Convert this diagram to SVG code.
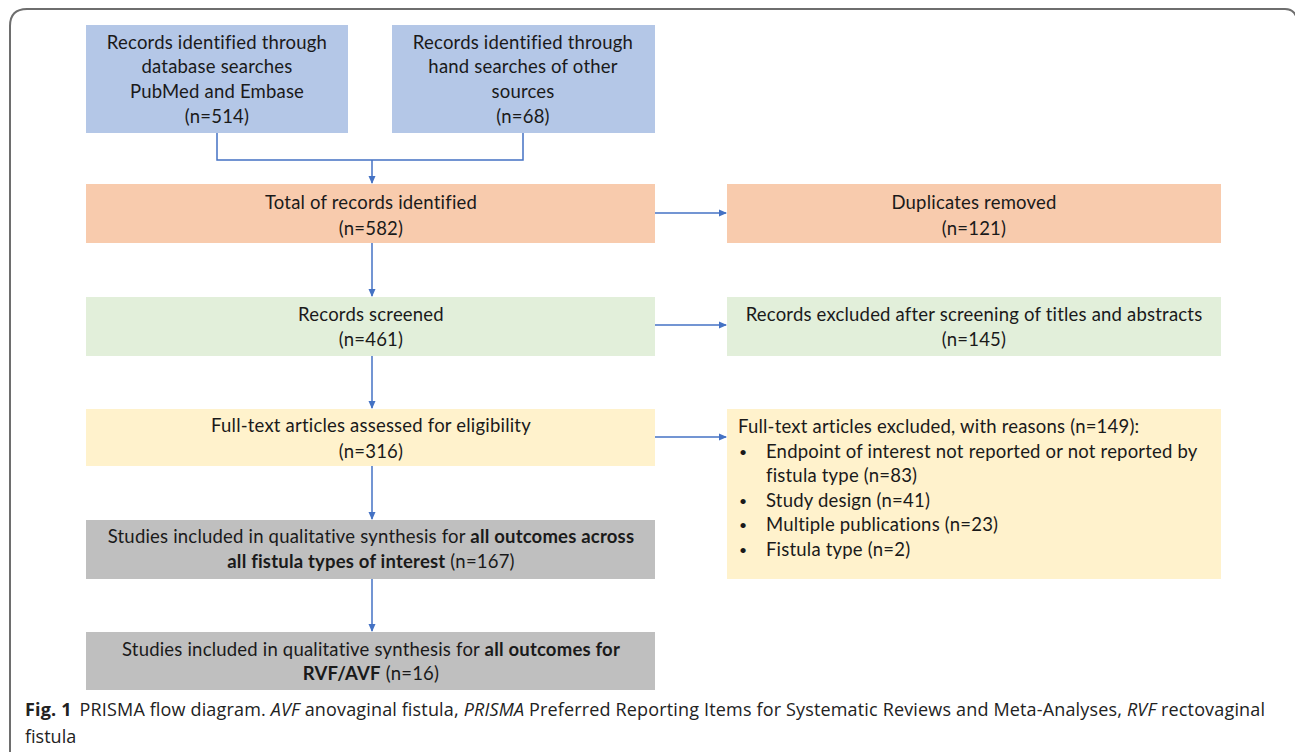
<svg xmlns="http://www.w3.org/2000/svg" width="1295" height="752" viewBox="0 0 1295 752">
<style>
.t{font-family:Lato,"Open Sans","Liberation Sans",sans-serif;font-size:18.5px;letter-spacing:0.2px;fill:#1a1a1a}
.c{text-anchor:middle}
.b{font-weight:bold}
.bul{font-family:Lato,"Open Sans","Liberation Sans",sans-serif;font-size:14px;fill:#1a1a1a}
.blue{fill:#b4c7e7}
.org{fill:#f8cbad}
.grn{fill:#e2efda}
.yel{fill:#fff2cc}
.gry{fill:#bfbfbf}
.ln{fill:none;stroke:#4472c4;stroke-width:1.5}
.cap{font-family:"Open Sans","Liberation Sans",sans-serif;font-size:18px;fill:#222}
</style>
<defs>
<marker id="ah" markerWidth="8" markerHeight="8" refX="7" refY="4" orient="auto" markerUnits="userSpaceOnUse">
<path d="M0,0.5 L8,4 L0,7.5 Z" fill="#4472c4"/>
</marker>
</defs>
<rect width="1295" height="752" fill="#fff"/>
<path d="M10,752 V26 Q10,9 27,9 H1285 Q1293,9 1296,16" fill="none" stroke="#6e6e6e" stroke-width="2"/>

<g id="connectors">
<path class="ln" d="M217,133 V160 H523 V133"/>
<path class="ln" d="M372,160 V183" marker-end="url(#ah)"/>
<path class="ln" d="M655,213 H726" marker-end="url(#ah)"/>
<path class="ln" d="M372,243 V296" marker-end="url(#ah)"/>
<path class="ln" d="M655,325 H726" marker-end="url(#ah)"/>
<path class="ln" d="M372,356 V408" marker-end="url(#ah)"/>
<path class="ln" d="M655,437 H726" marker-end="url(#ah)"/>
<path class="ln" d="M372,466 V519" marker-end="url(#ah)"/>
<path class="ln" d="M372,579 V631" marker-end="url(#ah)"/>
</g>

<g id="db">
<rect class="blue" x="86" y="25" width="262" height="108"/>
<text class="t c" x="217" y="49">Records identified through</text>
<text class="t c" x="217" y="73">database searches</text>
<text class="t c" x="217" y="98">PubMed and Embase</text>
<text class="t c" x="217" y="123">(n=514)</text>
</g>
<g id="hand">
<rect class="blue" x="392" y="25" width="263" height="108"/>
<text class="t c" x="523" y="49">Records identified through</text>
<text class="t c" x="523" y="73">hand searches of other</text>
<text class="t c" x="523" y="98">sources</text>
<text class="t c" x="523" y="123">(n=68)</text>
</g>
<g id="total">
<rect class="org" x="86" y="184" width="569" height="59"/>
<text class="t c" x="371" y="209">Total of records identified</text>
<text class="t c" x="371" y="235">(n=582)</text>
</g>
<g id="dup">
<rect class="org" x="727" y="184" width="494" height="59"/>
<text class="t c" x="974" y="209">Duplicates removed</text>
<text class="t c" x="974" y="235">(n=121)</text>
</g>
<g id="screened">
<rect class="grn" x="86" y="297" width="569" height="59"/>
<text class="t c" x="371" y="321">Records screened</text>
<text class="t c" x="371" y="346">(n=461)</text>
</g>
<g id="excl1">
<rect class="grn" x="727" y="297" width="494" height="59"/>
<text class="t c" x="974" y="321">Records excluded after screening of titles and abstracts</text>
<text class="t c" x="974" y="346">(n=145)</text>
</g>
<g id="fulltext">
<rect class="yel" x="86" y="409" width="569" height="57"/>
<text class="t c" x="371" y="432">Full-text articles assessed for eligibility</text>
<text class="t c" x="371" y="458">(n=316)</text>
</g>
<g id="excl2">
<rect class="yel" x="727" y="409" width="494" height="170"/>
<text class="t" x="738" y="433">Full-text articles excluded, with reasons (n=149):</text>
<text class="bul" x="739" y="457">•</text>
<text class="t" x="766" y="458">Endpoint of interest not reported or not reported by</text>
<text class="t" x="766" y="482">fistula type (n=83)</text>
<text class="bul" x="739" y="506">•</text>
<text class="t" x="766" y="507">Study design (n=41)</text>
<text class="bul" x="739" y="530">•</text>
<text class="t" x="766" y="531">Multiple publications (n=23)</text>
<text class="bul" x="739" y="555">•</text>
<text class="t" x="766" y="556">Fistula type (n=2)</text>
</g>
<g id="incl1">
<rect class="gry" x="86" y="520" width="569" height="59"/>
<text class="t c" x="371" y="543">Studies included in qualitative synthesis for <tspan class="b">all outcomes across</tspan></text>
<text class="t c" x="371" y="568"><tspan class="b">all fistula types of interest</tspan> (n=167)</text>
</g>
<g id="incl2">
<rect class="gry" x="86" y="632" width="569" height="58"/>
<text class="t c" x="371" y="656">Studies included in qualitative synthesis for <tspan class="b">all outcomes for</tspan></text>
<text class="t c" x="371" y="680"><tspan class="b">RVF/AVF</tspan> (n=16)</text>
</g>

<text class="cap" x="25" y="716" textLength="1240" lengthAdjust="spacing"><tspan font-weight="bold">Fig. 1</tspan><tspan dx="8">PRISMA flow diagram. </tspan><tspan font-style="italic">AVF</tspan> anovaginal fistula, <tspan font-style="italic">PRISMA</tspan> Preferred Reporting Items for Systematic Reviews and Meta-Analyses, <tspan font-style="italic">RVF</tspan> rectovaginal</text>
<text class="cap" x="25" y="743">fistula</text>
</svg>
